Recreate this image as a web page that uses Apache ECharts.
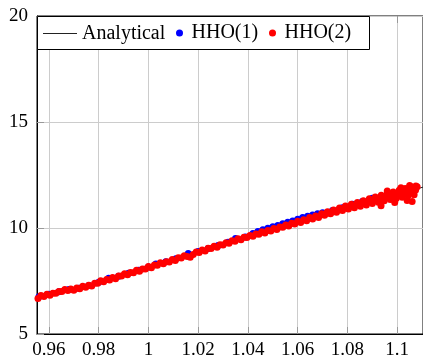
<!DOCTYPE html>
<html>
<head>
<meta charset="utf-8">
<script src="https://cdn.jsdelivr.net/npm/echarts@6/dist/echarts.min.js"></script>
<style>
html,body{margin:0;padding:0;background:#fff;}
#chart{width:423px;height:360px;}
</style>
</head>
<body>
<div id="chart"></div>
<script>
// ---- data ----
var seriesNames = ['Analytical', 'HHO(1)', 'HHO(2)'];
var xTickValues = [0.96, 0.98, 1, 1.02, 1.04, 1.06, 1.08, 1.1];
var yTickValues = [5, 10, 15, 20];

var analytical = [
  [0.9550, 6.71], [0.9800, 7.43], [1.0000, 8.14], [1.0300, 9.22],
  [1.0500, 9.92], [1.0800, 10.98], [1.1000, 11.57], [1.1110, 11.95]
];

var hho1 = [
  [0.9560,6.76],[0.9600,6.88],[0.9640,6.99],[0.9680,7.10],[0.9720,7.16],[0.9760,7.29],
  [0.9800,7.44],[0.9840,7.63],[0.9880,7.72],[0.9920,7.86],[0.9960,8.01],[1.0000,8.16],
  [1.0030,8.30],[1.0070,8.41],[1.0110,8.55],[1.0160,8.80],[1.0200,8.89],[1.0240,9.03],
  [1.0280,9.17],[1.0320,9.33],[1.0350,9.50],[1.0390,9.58],[1.0420,9.74],[1.0440,9.83],
  [1.0460,9.92],[1.0480,9.99],[1.0500,10.06],[1.0520,10.12],[1.0540,10.20],[1.0560,10.27],
  [1.0580,10.33],[1.0600,10.41],[1.0620,10.49],[1.0640,10.55],[1.0660,10.61],[1.0680,10.67],
  [1.0700,10.72],[1.0740,10.82],[1.0780,10.95],[1.0820,11.12],[1.0860,11.25],[1.0900,11.40],
  [1.0940,11.50],[1.0980,11.58],[1.1020,11.68],[1.1060,11.80]
];

var hho2 = [
  [0.9556,6.68],[0.9568,6.82],[0.9580,6.77],[0.9592,6.88],[0.9604,6.83],[0.9616,6.92],
  [0.9628,6.92],[0.9640,7.01],[0.9652,7.01],[0.9664,7.10],[0.9676,7.05],[0.9688,7.12],
  [0.9700,7.06],[0.9712,7.17],[0.9724,7.14],[0.9736,7.25],[0.9748,7.21],[0.9760,7.30],
  [0.9772,7.27],[0.9784,7.39],[0.9796,7.39],[0.9808,7.51],[0.9820,7.46],[0.9832,7.57],
  [0.9844,7.55],[0.9856,7.66],[0.9868,7.61],[0.9880,7.74],[0.9892,7.73],[0.9904,7.84],
  [0.9916,7.79],[0.9928,7.90],[0.9940,7.89],[0.9952,8.01],[0.9964,7.96],[0.9976,8.07],
  [0.9988,8.07],[1.0000,8.18],[1.0012,8.13],[1.0024,8.25],[1.0036,8.24],[1.0048,8.36],
  [1.0060,8.31],[1.0072,8.41],[1.0084,8.40],[1.0096,8.52],[1.0108,8.47],[1.0120,8.60],
  [1.0132,8.59],[1.0144,8.69],[1.0156,8.66],[1.0168,8.62],[1.0180,8.75],[1.0192,8.87],
  [1.0204,8.85],[1.0216,8.96],[1.0228,8.92],[1.0240,9.04],[1.0252,9.03],[1.0264,9.14],
  [1.0276,9.09],[1.0288,9.21],[1.0300,9.20],[1.0312,9.31],[1.0324,9.28],[1.0336,9.40],
  [1.0348,9.38],[1.0360,9.49],[1.0372,9.44],[1.0384,9.56],[1.0396,9.55],[1.0408,9.65],
  [1.0420,9.61],[1.0432,9.72],[1.0444,9.70],[1.0456,9.82],[1.0468,9.76],[1.0480,9.88],
  [1.0492,9.86],[1.0504,9.98],[1.0516,9.93],[1.0528,10.05],[1.0540,10.03],[1.0552,10.14],
  [1.0564,10.09],[1.0576,10.22],[1.0588,10.19],[1.0600,10.32],[1.0612,10.26],[1.0624,10.39],
  [1.0636,10.34],[1.0648,10.49],[1.0660,10.43],[1.0672,10.57],[1.0684,10.50],[1.0696,10.67],
  [1.0708,10.60],[1.0720,10.77],[1.0732,10.67],[1.0744,10.85],[1.0756,10.74],[1.0768,10.94],
  [1.0780,10.83],[1.0792,11.04],[1.0804,10.90],[1.0816,11.12],[1.0828,10.96],[1.0840,11.20],
  [1.0852,11.03],[1.0864,11.29],[1.0876,11.09],[1.0888,11.38],[1.0900,11.16],[1.0912,11.46],
  [1.0924,11.21],[1.0936,11.54],[1.0948,11.28],[1.0960,11.62],[1.0972,11.34],[1.0984,11.70],
  [1.0996,11.39],[1.1008,11.78],[1.1020,11.45],[1.1032,11.86],[1.1044,11.52],[1.1056,11.94],
  [1.1068,11.57],[1.1080,11.95],
  [1.0714,10.68],[1.0738,10.76],[1.0762,10.84],[1.0786,10.93],
  [1.0810,11.00],[1.0834,11.08],[1.0858,11.15],[1.0882,11.23],[1.0906,11.30],[1.0930,11.37],
  [1.0954,11.44],[1.0978,11.51],[1.1002,11.58],[1.1026,11.65],[1.1050,11.72],[1.1074,11.79],
  [1.0935,11.05],[1.0990,11.20],[1.1040,11.30],[1.1060,11.25],[1.1050,12.00],[1.1075,11.98],
  [1.0960,11.75],[1.1015,11.90]
];

// ---- chart ----
var FONT = 'Liberation Serif';
var chart = echarts.init(document.getElementById('chart'), null, {renderer: 'canvas'});

function xFmt(v) { return String(parseFloat(Number(v).toFixed(4))); }

var legendBase = {
  orient: 'horizontal', top: 23, padding: 0, selectedMode: false, z: 10,
  textStyle: {fontFamily: FONT, fontSize: 20, color: '#000', lineHeight: 20}
};

var option = {
  animation: false,
  backgroundColor: '#fff',
  textStyle: {fontFamily: FONT},
  grid: {left: 37, top: 16, right: -3, bottom: 22, show: true, borderColor: '#000', borderWidth: 1, backgroundColor: 'transparent'},
  xAxis: [{
    type: 'value', min: 0.95521, max: 1.11037, minInterval: 0.02, maxInterval: 0.02, splitNumber: 7,
    axisLine: {show: true, lineStyle: {color: '#000', width: 1}},
    axisTick: {show: true, inside: true, length: 7, lineStyle: {color: '#999'}},
    axisLabel: {fontFamily: FONT, fontSize: 19, color: '#000', margin: 7, formatter: xFmt,
                showMinLabel: false, showMaxLabel: false},
    splitLine: {show: true, lineStyle: {color: '#cccccc', width: 1}}
  }, {
    type: 'value', position: 'top', min: 0.95521, max: 1.11037, minInterval: 0.02, maxInterval: 0.02, splitNumber: 7,
    axisLine: {show: false},
    axisTick: {show: true, inside: true, length: 7, lineStyle: {color: '#999'}},
    axisLabel: {show: false}, splitLine: {show: false}
  }],
  yAxis: {
    type: 'value', min: yTickValues[0], max: yTickValues[yTickValues.length - 1], interval: 5,
    axisLine: {show: true, lineStyle: {color: '#000', width: 1}},
    axisTick: {show: true, inside: true, length: 7, lineStyle: {color: '#999'}},
    axisLabel: {fontFamily: FONT, fontSize: 19, color: '#000', margin: 9},
    splitLine: {show: true, lineStyle: {color: '#cccccc', width: 1}}
  },
  graphic: [{
    type: 'rect', z: 5, silent: true,
    shape: {x: 37.5, y: 16.5, width: 332, height: 33},
    style: {fill: '#fff', stroke: '#000', lineWidth: 1}
  }],
  legend: [
    Object.assign({}, legendBase, {left: 43, top: 23.5, itemWidth: 34, itemHeight: 1,
      data: [{name: seriesNames[0], icon: 'rect', itemStyle: {color: '#222'}}]}),
    Object.assign({}, legendBase, {left: 176, itemWidth: 14, itemHeight: 7, data: [{name: seriesNames[1], icon: 'circle'}]}),
    Object.assign({}, legendBase, {left: 269, itemWidth: 14, itemHeight: 7, data: [{name: seriesNames[2], icon: 'circle'}]})
  ],
  series: [{
    name: seriesNames[0], type: 'line', data: analytical, symbol: 'none', showSymbol: false,
    lineStyle: {color: '#222', width: 1}, itemStyle: {color: '#222'}, z: 2
  }, {
    name: seriesNames[1], type: 'scatter', data: hho1, symbol: 'circle', symbolSize: 7,
    itemStyle: {color: '#0000ff', opacity: 1}, z: 3
  }, {
    name: seriesNames[2], type: 'scatter', data: hho2, symbol: 'circle', symbolSize: 7,
    itemStyle: {color: '#ff0000', opacity: 1}, z: 4
  }]
};
chart.setOption(option);
</script>
</body>
</html>
